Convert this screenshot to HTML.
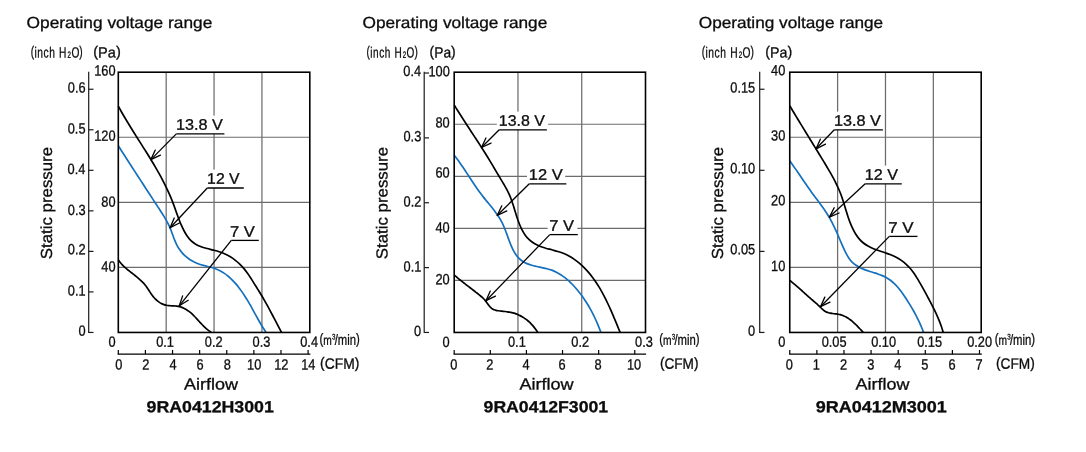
<!DOCTYPE html>
<html><head><meta charset="utf-8"><title>Operating voltage range</title>
<style>html,body{margin:0;padding:0;background:#fff}svg{display:block}text{text-rendering:geometricPrecision;font-family:"Liberation Sans",sans-serif;fill:#0c0c0c;stroke:#0c0c0c;stroke-width:.3px;vector-effect:non-scaling-stroke}</style>
</head><body>
<svg width="1086" height="452" viewBox="0 0 1086 452">
<rect width="1086" height="452" fill="#fff"/>
<text transform="translate(26.62 28.00) scale(1.0814 1) rotate(0.04)" font-size="16">Operating voltage range</text>
<text transform="translate(30.69 57.45) scale(0.6899 1) rotate(0.04)" stroke-width="0.75"><tspan dy="-1.00" font-size="14.8">(</tspan><tspan dx="0.50 0.80 0.80 0.80" dy="1.00" font-size="14.8">inch</tspan><tspan dx="2.00" font-size="14.8"> H</tspan><tspan dx="1.60" dy="0.20" font-size="9">2</tspan><tspan dx="0.60" dy="-0.20" font-size="14.8">O</tspan><tspan dy="-1.00" font-size="14.8">)</tspan></text>
<text transform="translate(93.23 57.45) scale(0.9838 1) rotate(0.04)" stroke-width="0.6"><tspan dy="-1.00" font-size="14.8">(</tspan><tspan dy="1.00" font-size="14.8">Pa</tspan><tspan dy="-1.00" font-size="14.8">)</tspan></text>
<line x1="166.18" y1="72.20" x2="166.18" y2="332.45" stroke="#6c6c6c" stroke-width="1.25"/>
<line x1="214.05" y1="72.20" x2="214.05" y2="332.45" stroke="#6c6c6c" stroke-width="1.25"/>
<line x1="261.93" y1="72.20" x2="261.93" y2="332.45" stroke="#6c6c6c" stroke-width="1.25"/>
<line x1="118.30" y1="137.26" x2="309.80" y2="137.26" stroke="#6c6c6c" stroke-width="1.2"/>
<line x1="118.30" y1="202.32" x2="309.80" y2="202.32" stroke="#6c6c6c" stroke-width="1.2"/>
<line x1="118.30" y1="267.39" x2="309.80" y2="267.39" stroke="#6c6c6c" stroke-width="1.2"/>
<path d="M118.30 106.10 C118.79 106.99 120.25 109.68 121.25 111.46 C122.25 113.24 123.27 115.01 124.30 116.77 C125.33 118.54 126.38 120.29 127.44 122.05 C128.49 123.80 129.56 125.54 130.64 127.29 C131.71 129.03 132.80 130.77 133.89 132.51 C134.97 134.24 136.07 135.98 137.17 137.71 C138.26 139.44 139.36 141.17 140.46 142.91 C141.56 144.64 142.66 146.37 143.75 148.11 C144.85 149.84 145.94 151.58 147.02 153.32 C148.11 155.06 149.19 156.80 150.26 158.55 C151.33 160.30 152.39 162.05 153.44 163.81 C154.48 165.56 155.52 167.33 156.54 169.10 C157.56 170.87 158.57 172.65 159.56 174.44 C160.54 176.23 161.52 178.03 162.46 179.83 C163.41 181.64 164.34 183.46 165.25 185.29 C166.15 187.12 167.04 188.96 167.89 190.82 C168.74 192.67 169.57 194.54 170.37 196.42 C171.17 198.31 171.94 200.20 172.68 202.12 C173.42 204.03 174.11 205.96 174.81 207.89 C175.51 209.83 176.18 211.78 176.88 213.71 C177.58 215.64 178.27 217.58 179.01 219.49 C179.76 221.41 180.51 223.32 181.35 225.19 C182.18 227.06 183.04 228.92 184.01 230.73 C184.97 232.53 185.98 234.36 187.14 236.02 C188.29 237.68 189.52 239.32 190.94 240.70 C192.36 242.07 193.94 243.27 195.65 244.27 C197.35 245.28 199.26 246.03 201.18 246.74 C203.10 247.45 205.16 247.97 207.17 248.52 C209.19 249.07 211.25 249.52 213.26 250.06 C215.27 250.59 217.28 251.10 219.23 251.75 C221.18 252.40 223.10 253.11 224.95 253.96 C226.80 254.81 228.61 255.77 230.35 256.83 C232.09 257.89 233.77 259.07 235.38 260.32 C236.99 261.57 238.53 262.93 240.00 264.35 C241.46 265.77 242.85 267.29 244.16 268.86 C245.47 270.43 246.68 272.09 247.86 273.76 C249.05 275.44 250.15 277.18 251.26 278.91 C252.37 280.63 253.45 282.39 254.54 284.13 C255.63 285.86 256.72 287.60 257.80 289.34 C258.87 291.08 259.95 292.81 261.00 294.56 C262.06 296.31 263.10 298.06 264.13 299.83 C265.15 301.60 266.15 303.38 267.14 305.17 C268.13 306.96 269.10 308.76 270.06 310.57 C271.02 312.37 271.97 314.18 272.92 316.00 C273.87 317.81 274.82 319.63 275.76 321.44 C276.71 323.26 277.66 325.08 278.61 326.88 C279.57 328.69 281.02 331.40 281.50 332.30" fill="none" stroke="#000" stroke-width="1.7" stroke-linejoin="round"/>
<path d="M118.30 145.80 C118.77 146.53 120.17 148.72 121.11 150.18 C122.05 151.64 122.99 153.10 123.93 154.56 C124.87 156.03 125.82 157.49 126.76 158.95 C127.70 160.41 128.64 161.88 129.59 163.34 C130.53 164.80 131.48 166.27 132.42 167.73 C133.37 169.20 134.31 170.66 135.26 172.12 C136.21 173.59 137.16 175.05 138.10 176.51 C139.05 177.98 140.00 179.44 140.95 180.90 C141.90 182.36 142.85 183.83 143.79 185.29 C144.74 186.75 145.69 188.21 146.64 189.67 C147.59 191.13 148.54 192.59 149.49 194.04 C150.44 195.50 151.39 196.96 152.34 198.41 C153.29 199.87 154.24 201.32 155.19 202.78 C156.14 204.23 157.09 205.68 158.04 207.13 C158.99 208.58 159.95 210.02 160.89 211.48 C161.82 212.93 162.76 214.38 163.67 215.86 C164.57 217.34 165.46 218.82 166.30 220.34 C167.14 221.86 167.95 223.39 168.70 224.97 C169.45 226.54 170.14 228.16 170.80 229.80 C171.46 231.44 172.04 233.13 172.67 234.80 C173.29 236.46 173.87 238.15 174.53 239.79 C175.20 241.42 175.86 243.06 176.65 244.61 C177.43 246.16 178.28 247.66 179.24 249.09 C180.20 250.51 181.26 251.86 182.39 253.13 C183.52 254.40 184.75 255.60 186.04 256.71 C187.34 257.81 188.71 258.84 190.15 259.77 C191.58 260.70 193.09 261.55 194.64 262.29 C196.20 263.03 197.83 263.66 199.48 264.23 C201.13 264.79 202.85 265.21 204.55 265.67 C206.25 266.13 207.99 266.50 209.69 266.98 C211.38 267.46 213.07 267.95 214.70 268.54 C216.34 269.14 217.95 269.79 219.50 270.56 C221.05 271.32 222.55 272.18 224.00 273.13 C225.45 274.08 226.84 275.15 228.19 276.26 C229.53 277.37 230.82 278.58 232.06 279.81 C233.30 281.04 234.48 282.32 235.63 283.63 C236.78 284.94 237.87 286.29 238.94 287.66 C240.00 289.04 241.02 290.44 242.02 291.87 C243.01 293.29 243.97 294.75 244.91 296.21 C245.85 297.68 246.76 299.17 247.65 300.67 C248.55 302.17 249.42 303.68 250.28 305.20 C251.15 306.72 252.00 308.26 252.85 309.79 C253.70 311.32 254.53 312.85 255.38 314.38 C256.22 315.91 257.07 317.45 257.92 318.97 C258.78 320.49 259.63 322.00 260.51 323.50 C261.39 325.00 262.28 326.49 263.19 327.96 C264.11 329.42 265.53 331.58 266.00 332.30" fill="none" stroke="#1470bd" stroke-width="1.7" stroke-linejoin="round"/>
<path d="M118.30 259.90 C118.56 260.25 119.32 261.32 119.86 262.00 C120.40 262.67 120.97 263.33 121.55 263.96 C122.13 264.60 122.73 265.21 123.35 265.82 C123.96 266.42 124.59 267.01 125.23 267.58 C125.88 268.16 126.53 268.72 127.19 269.28 C127.85 269.83 128.52 270.38 129.20 270.92 C129.87 271.46 130.56 271.99 131.24 272.53 C131.92 273.06 132.60 273.59 133.29 274.12 C133.97 274.66 134.65 275.19 135.33 275.73 C136.00 276.27 136.68 276.81 137.34 277.36 C138.01 277.91 138.67 278.46 139.31 279.03 C139.95 279.60 140.59 280.18 141.21 280.77 C141.83 281.37 142.44 281.97 143.03 282.60 C143.61 283.23 144.19 283.87 144.74 284.53 C145.29 285.19 145.81 285.88 146.32 286.58 C146.84 287.28 147.32 288.01 147.81 288.73 C148.30 289.46 148.77 290.20 149.25 290.94 C149.72 291.67 150.19 292.41 150.68 293.14 C151.17 293.86 151.65 294.58 152.17 295.28 C152.68 295.98 153.20 296.67 153.75 297.32 C154.31 297.98 154.89 298.61 155.49 299.21 C156.10 299.80 156.73 300.37 157.39 300.90 C158.05 301.43 158.73 301.93 159.44 302.38 C160.14 302.83 160.88 303.25 161.63 303.61 C162.38 303.98 163.16 304.31 163.95 304.58 C164.75 304.85 165.56 305.08 166.40 305.25 C167.23 305.42 168.09 305.53 168.95 305.63 C169.81 305.72 170.69 305.76 171.57 305.82 C172.45 305.88 173.34 305.90 174.22 305.96 C175.09 306.03 175.98 306.08 176.84 306.20 C177.71 306.31 178.56 306.45 179.40 306.65 C180.24 306.85 181.06 307.11 181.87 307.40 C182.67 307.69 183.46 308.04 184.23 308.42 C184.99 308.80 185.74 309.22 186.47 309.67 C187.20 310.11 187.91 310.60 188.60 311.11 C189.29 311.61 189.96 312.15 190.61 312.71 C191.27 313.26 191.91 313.84 192.54 314.44 C193.16 315.03 193.78 315.64 194.39 316.27 C195.00 316.89 195.59 317.53 196.19 318.17 C196.78 318.81 197.37 319.46 197.96 320.11 C198.55 320.75 199.13 321.41 199.72 322.06 C200.31 322.70 200.90 323.35 201.50 323.99 C202.10 324.62 202.70 325.25 203.31 325.87 C203.92 326.48 204.54 327.09 205.17 327.67 C205.81 328.25 206.45 328.82 207.11 329.36 C207.77 329.90 208.45 330.43 209.15 330.92 C209.85 331.40 210.94 332.07 211.30 332.30" fill="none" stroke="#000" stroke-width="1.7" stroke-linejoin="round"/>
<rect x="173.5" y="115.6" width="51.5" height="18.3" fill="#fff"/>
<text transform="translate(175.98 129.80) scale(1.0606 1) rotate(0.04)" font-size="15.3">13.8 V</text>
<line x1="176.30" y1="133.90" x2="224.40" y2="133.90" stroke="#000" stroke-width="1.3"/>
<line x1="176.30" y1="133.90" x2="150.90" y2="159.60" stroke="#000" stroke-width="1.3"/>
<line x1="150.90" y1="159.60" x2="155.28" y2="150.06" stroke="#000" stroke-width="1.3" stroke-linecap="round"/>
<line x1="150.90" y1="159.60" x2="160.39" y2="155.11" stroke="#000" stroke-width="1.3" stroke-linecap="round"/>
<rect x="204.0" y="169.6" width="40.5" height="18.4" fill="#fff"/>
<text transform="translate(207.12 183.80) scale(1.0325 1) rotate(0.04)" font-size="15.3">12 V</text>
<line x1="207.30" y1="188.00" x2="243.80" y2="188.00" stroke="#000" stroke-width="1.3"/>
<line x1="207.30" y1="188.00" x2="170.10" y2="227.70" stroke="#000" stroke-width="1.3"/>
<line x1="170.10" y1="227.70" x2="174.23" y2="218.04" stroke="#000" stroke-width="1.3" stroke-linecap="round"/>
<line x1="170.10" y1="227.70" x2="179.47" y2="222.96" stroke="#000" stroke-width="1.3" stroke-linecap="round"/>
<rect x="228.5" y="223.0" width="31.5" height="17.4" fill="#fff"/>
<text transform="translate(230.07 236.80) scale(1.0810 1) rotate(0.04)" font-size="15.3">7 V</text>
<line x1="231.30" y1="240.40" x2="258.80" y2="240.40" stroke="#000" stroke-width="1.3"/>
<line x1="231.30" y1="240.40" x2="179.30" y2="305.80" stroke="#000" stroke-width="1.3"/>
<line x1="179.30" y1="305.80" x2="182.63" y2="295.84" stroke="#000" stroke-width="1.3" stroke-linecap="round"/>
<line x1="179.30" y1="305.80" x2="188.25" y2="300.31" stroke="#000" stroke-width="1.3" stroke-linecap="round"/>
<rect x="118.30" y="72.20" width="191.50" height="260.25" fill="none" stroke="#000" stroke-width="1.6"/>
<line x1="88.70" y1="71.70" x2="88.70" y2="333.05" stroke="#1a1a1a" stroke-width="1.2"/>
<line x1="88.70" y1="332.45" x2="93.50" y2="332.45" stroke="#1a1a1a" stroke-width="1.2"/>
<text transform="translate(78.41 335.70) scale(0.8650 1) rotate(0.04)" font-size="14.8" stroke-width="0.75">0</text>
<line x1="88.70" y1="291.92" x2="93.50" y2="291.92" stroke="#1a1a1a" stroke-width="1.2"/>
<text transform="translate(67.85 295.57) scale(0.8650 1) rotate(0.04)" font-size="14.8" stroke-width="0.75">0.1</text>
<line x1="88.70" y1="251.38" x2="93.50" y2="251.38" stroke="#1a1a1a" stroke-width="1.2"/>
<text transform="translate(67.85 254.33) scale(0.8650 1) rotate(0.04)" font-size="14.8" stroke-width="0.75">0.2</text>
<line x1="88.70" y1="210.85" x2="93.50" y2="210.85" stroke="#1a1a1a" stroke-width="1.2"/>
<text transform="translate(67.78 214.90) scale(0.8650 1) rotate(0.04)" font-size="14.8" stroke-width="0.75">0.3</text>
<line x1="88.70" y1="170.31" x2="93.50" y2="170.31" stroke="#1a1a1a" stroke-width="1.2"/>
<text transform="translate(67.59 174.06) scale(0.8650 1) rotate(0.04)" font-size="14.8" stroke-width="0.75">0.4</text>
<line x1="88.70" y1="129.78" x2="93.50" y2="129.78" stroke="#1a1a1a" stroke-width="1.2"/>
<text transform="translate(67.72 133.58) scale(0.8650 1) rotate(0.04)" font-size="14.8" stroke-width="0.75">0.5</text>
<line x1="88.70" y1="89.25" x2="93.50" y2="89.25" stroke="#1a1a1a" stroke-width="1.2"/>
<text transform="translate(67.78 92.60) scale(0.8650 1) rotate(0.04)" font-size="14.8" stroke-width="0.75">0.6</text>
<text transform="translate(94.20 75.45) scale(0.8650 1) rotate(0.04)" font-size="14.8" stroke-width="0.75">160</text>
<text transform="translate(94.20 140.65) scale(0.8650 1) rotate(0.04)" font-size="14.8" stroke-width="0.75">120</text>
<text transform="translate(101.30 206.80) scale(0.8650 1) rotate(0.04)" font-size="14.8" stroke-width="0.75">80</text>
<text transform="translate(101.30 271.45) scale(0.8650 1) rotate(0.04)" font-size="14.8" stroke-width="0.75">40</text>
<text transform="translate(108.41 346.80) scale(0.8650 1) rotate(0.04)" font-size="14.8" stroke-width="0.75">0</text>
<text transform="translate(156.17 346.65) scale(0.8650 1) rotate(0.04)" font-size="14.8" stroke-width="0.75">0.1</text>
<text transform="translate(204.77 346.65) scale(0.8650 1) rotate(0.04)" font-size="14.8" stroke-width="0.75">0.2</text>
<text transform="translate(252.53 346.65) scale(0.8650 1) rotate(0.04)" font-size="14.8" stroke-width="0.75">0.3</text>
<text transform="translate(300.24 346.65) scale(0.8650 1) rotate(0.04)" font-size="14.8" stroke-width="0.75">0.4</text>
<text transform="translate(319.52 344.65) scale(0.7638 1) rotate(0.04)" stroke-width="0.75"><tspan dy="-1.00" font-size="14.8">(</tspan><tspan dy="1.00" font-size="13.4">m</tspan><tspan dx="0.20" dy="-5.10" font-size="8.2">3</tspan><tspan dx="-1.00" dy="5.10" font-size="14.8">/min</tspan><tspan dy="-1.00" font-size="14.8">)</tspan></text>
<line x1="117.70" y1="354.15" x2="310.40" y2="354.15" stroke="#000" stroke-width="1.2"/>
<line x1="118.30" y1="354.15" x2="118.30" y2="349.95" stroke="#000" stroke-width="1.2"/>
<text transform="translate(115.25 369.45) scale(0.8650 1) rotate(0.04)" font-size="14.8" stroke-width="0.75">0</text>
<line x1="145.41" y1="354.15" x2="145.41" y2="349.95" stroke="#000" stroke-width="1.2"/>
<text transform="translate(142.36 369.45) scale(0.8650 1) rotate(0.04)" font-size="14.8" stroke-width="0.75">2</text>
<line x1="172.53" y1="354.15" x2="172.53" y2="349.95" stroke="#000" stroke-width="1.2"/>
<text transform="translate(169.51 369.45) scale(0.8650 1) rotate(0.04)" font-size="14.8" stroke-width="0.75">4</text>
<line x1="199.64" y1="354.15" x2="199.64" y2="349.95" stroke="#000" stroke-width="1.2"/>
<text transform="translate(196.56 369.45) scale(0.8650 1) rotate(0.04)" font-size="14.8" stroke-width="0.75">6</text>
<line x1="226.75" y1="354.15" x2="226.75" y2="349.95" stroke="#000" stroke-width="1.2"/>
<text transform="translate(223.67 369.45) scale(0.8650 1) rotate(0.04)" font-size="14.8" stroke-width="0.75">8</text>
<line x1="253.87" y1="354.15" x2="253.87" y2="349.95" stroke="#000" stroke-width="1.2"/>
<text transform="translate(247.04 369.45) scale(0.8650 1) rotate(0.04)" font-size="14.8" stroke-width="0.75">10</text>
<line x1="280.98" y1="354.15" x2="280.98" y2="349.95" stroke="#000" stroke-width="1.2"/>
<text transform="translate(274.21 369.45) scale(0.8650 1) rotate(0.04)" font-size="14.8" stroke-width="0.75">12</text>
<line x1="308.09" y1="354.15" x2="308.09" y2="349.95" stroke="#000" stroke-width="1.2"/>
<text transform="translate(301.20 369.45) scale(0.8650 1) rotate(0.04)" font-size="14.8" stroke-width="0.75">14</text>
<text transform="translate(320.07 368.85) scale(0.9225 1) rotate(0.04)" stroke-width="0.6"><tspan dy="-1.00" font-size="15">(</tspan><tspan dy="1.00" font-size="15">CFM</tspan><tspan dy="-1.00" font-size="15">)</tspan></text>
<text transform="translate(184.11 389.60) scale(1.1229 1) rotate(0.04)" font-size="16">Airflow</text>
<text transform="translate(146.58 412.20) scale(1.1085 1) rotate(0.04)" font-size="16" font-weight="bold" stroke-width="0.1">9RA0412H3001</text>
<text transform="translate(52.10 259.16) rotate(-90.04) scale(1.0515 1)" font-size="16">Static pressure</text>
<text transform="translate(362.53 28.00) scale(1.0761 1) rotate(0.04)" font-size="16">Operating voltage range</text>
<text transform="translate(366.60 57.45) scale(0.6776 1) rotate(0.04)" stroke-width="0.75"><tspan dy="-1.00" font-size="14.8">(</tspan><tspan dx="0.50 0.80 0.80 0.80" dy="1.00" font-size="14.8">inch</tspan><tspan dx="2.00" font-size="14.8"> H</tspan><tspan dx="1.60" dy="0.20" font-size="9">2</tspan><tspan dx="0.60" dy="-0.20" font-size="14.8">O</tspan><tspan dy="-1.00" font-size="14.8">)</tspan></text>
<text transform="translate(429.57 57.45) scale(0.9341 1) rotate(0.04)" stroke-width="0.6"><tspan dy="-1.00" font-size="14.8">(</tspan><tspan dy="1.00" font-size="14.8">Pa</tspan><tspan dy="-1.00" font-size="14.8">)</tspan></text>
<line x1="517.97" y1="72.20" x2="517.97" y2="332.45" stroke="#6c6c6c" stroke-width="1.25"/>
<line x1="581.73" y1="72.20" x2="581.73" y2="332.45" stroke="#6c6c6c" stroke-width="1.25"/>
<line x1="454.20" y1="124.25" x2="645.50" y2="124.25" stroke="#6c6c6c" stroke-width="1.2"/>
<line x1="454.20" y1="176.30" x2="645.50" y2="176.30" stroke="#6c6c6c" stroke-width="1.2"/>
<line x1="454.20" y1="228.35" x2="645.50" y2="228.35" stroke="#6c6c6c" stroke-width="1.2"/>
<line x1="454.20" y1="280.40" x2="645.50" y2="280.40" stroke="#6c6c6c" stroke-width="1.2"/>
<path d="M454.20 105.00 C454.75 105.88 456.37 108.53 457.47 110.29 C458.57 112.04 459.68 113.79 460.80 115.54 C461.91 117.28 463.03 119.02 464.16 120.76 C465.28 122.50 466.41 124.24 467.54 125.97 C468.67 127.70 469.81 129.44 470.94 131.17 C472.08 132.90 473.21 134.63 474.34 136.36 C475.47 138.10 476.61 139.83 477.73 141.57 C478.86 143.30 479.98 145.04 481.10 146.78 C482.21 148.53 483.33 150.27 484.43 152.03 C485.53 153.78 486.63 155.54 487.72 157.30 C488.80 159.07 489.88 160.84 490.95 162.62 C492.02 164.39 493.07 166.18 494.13 167.96 C495.19 169.75 496.24 171.54 497.30 173.32 C498.36 175.10 499.42 176.88 500.48 178.66 C501.55 180.44 502.64 182.21 503.68 183.99 C504.72 185.78 505.77 187.56 506.73 189.39 C507.69 191.21 508.61 193.05 509.44 194.94 C510.28 196.82 511.01 198.76 511.71 200.71 C512.42 202.65 513.04 204.64 513.67 206.63 C514.31 208.61 514.89 210.63 515.51 212.62 C516.14 214.62 516.74 216.62 517.42 218.60 C518.10 220.57 518.78 222.55 519.58 224.47 C520.37 226.40 521.21 228.33 522.18 230.16 C523.15 231.99 524.20 233.80 525.41 235.44 C526.63 237.08 527.98 238.62 529.46 239.98 C530.94 241.34 532.58 242.55 534.30 243.59 C536.01 244.63 537.87 245.48 539.76 246.24 C541.65 247.01 543.65 247.59 545.65 248.19 C547.65 248.78 549.73 249.25 551.77 249.80 C553.81 250.35 555.88 250.84 557.89 251.46 C559.90 252.09 561.90 252.75 563.82 253.55 C565.74 254.35 567.61 255.27 569.42 256.28 C571.22 257.29 572.97 258.40 574.67 259.59 C576.36 260.78 577.99 262.06 579.57 263.39 C581.14 264.72 582.66 266.14 584.12 267.59 C585.58 269.04 586.98 270.56 588.32 272.11 C589.67 273.66 590.96 275.26 592.21 276.90 C593.46 278.53 594.65 280.22 595.81 281.93 C596.96 283.64 598.07 285.39 599.15 287.16 C600.22 288.93 601.25 290.74 602.25 292.56 C603.26 294.38 604.22 296.24 605.16 298.10 C606.10 299.96 607.01 301.85 607.90 303.74 C608.79 305.63 609.65 307.54 610.50 309.45 C611.35 311.36 612.17 313.28 612.99 315.20 C613.80 317.11 614.60 319.03 615.40 320.94 C616.19 322.85 616.97 324.76 617.76 326.65 C618.54 328.55 619.71 331.36 620.10 332.30" fill="none" stroke="#000" stroke-width="1.7" stroke-linejoin="round"/>
<path d="M454.20 155.20 C454.72 155.88 456.29 157.89 457.31 159.26 C458.32 160.63 459.30 162.01 460.28 163.40 C461.25 164.79 462.20 166.19 463.15 167.59 C464.09 169.00 465.02 170.41 465.95 171.83 C466.88 173.24 467.79 174.66 468.72 176.08 C469.64 177.49 470.56 178.91 471.49 180.33 C472.42 181.74 473.35 183.15 474.29 184.55 C475.24 185.95 476.19 187.35 477.17 188.74 C478.15 190.12 479.13 191.50 480.15 192.86 C481.17 194.22 482.21 195.56 483.27 196.90 C484.32 198.23 485.41 199.55 486.49 200.87 C487.56 202.20 488.66 203.51 489.73 204.83 C490.81 206.16 491.89 207.48 492.93 208.82 C493.98 210.16 495.01 211.50 496.00 212.88 C496.99 214.25 497.95 215.64 498.86 217.06 C499.76 218.48 500.63 219.93 501.43 221.41 C502.23 222.90 502.96 224.42 503.64 225.97 C504.33 227.52 504.95 229.11 505.56 230.70 C506.17 232.30 506.73 233.92 507.31 235.53 C507.90 237.15 508.45 238.78 509.06 240.38 C509.66 241.98 510.26 243.59 510.93 245.15 C511.60 246.72 512.29 248.28 513.07 249.78 C513.86 251.28 514.69 252.78 515.63 254.16 C516.58 255.55 517.60 256.90 518.75 258.08 C519.90 259.27 521.17 260.33 522.54 261.26 C523.91 262.18 525.42 262.94 526.96 263.62 C528.49 264.29 530.12 264.82 531.76 265.30 C533.39 265.79 535.08 266.15 536.76 266.53 C538.45 266.91 540.16 267.21 541.85 267.57 C543.54 267.93 545.25 268.26 546.90 268.70 C548.56 269.13 550.20 269.59 551.78 270.17 C553.37 270.76 554.91 271.44 556.41 272.19 C557.90 272.95 559.36 273.81 560.77 274.72 C562.18 275.63 563.55 276.63 564.88 277.67 C566.22 278.71 567.51 279.83 568.77 280.97 C570.03 282.11 571.25 283.31 572.43 284.53 C573.62 285.75 574.77 287.01 575.89 288.29 C577.01 289.57 578.10 290.87 579.15 292.20 C580.21 293.53 581.23 294.89 582.23 296.26 C583.22 297.63 584.19 299.03 585.12 300.45 C586.06 301.86 586.96 303.30 587.84 304.75 C588.72 306.21 589.57 307.68 590.39 309.16 C591.21 310.65 592.01 312.15 592.78 313.66 C593.55 315.18 594.30 316.70 595.02 318.24 C595.74 319.78 596.44 321.33 597.12 322.88 C597.79 324.44 598.44 326.00 599.07 327.57 C599.70 329.14 600.60 331.51 600.90 332.30" fill="none" stroke="#1470bd" stroke-width="1.7" stroke-linejoin="round"/>
<path d="M454.20 275.00 C454.48 275.24 455.31 275.97 455.88 276.45 C456.44 276.94 457.00 277.41 457.57 277.89 C458.14 278.36 458.72 278.83 459.29 279.30 C459.87 279.77 460.44 280.23 461.02 280.70 C461.60 281.16 462.19 281.62 462.77 282.08 C463.35 282.54 463.94 282.99 464.53 283.45 C465.12 283.91 465.70 284.36 466.29 284.81 C466.88 285.27 467.47 285.72 468.06 286.17 C468.65 286.62 469.25 287.08 469.84 287.53 C470.43 287.98 471.02 288.43 471.61 288.88 C472.20 289.34 472.79 289.79 473.37 290.24 C473.96 290.70 474.55 291.15 475.13 291.61 C475.72 292.06 476.30 292.52 476.89 292.98 C477.47 293.44 478.05 293.90 478.62 294.37 C479.20 294.83 479.78 295.30 480.34 295.77 C480.90 296.25 481.47 296.73 482.01 297.23 C482.56 297.72 483.09 298.23 483.61 298.76 C484.13 299.28 484.64 299.82 485.12 300.39 C485.60 300.95 486.06 301.55 486.51 302.15 C486.95 302.75 487.38 303.38 487.81 303.98 C488.25 304.59 488.67 305.21 489.13 305.78 C489.58 306.35 490.04 306.91 490.54 307.41 C491.04 307.91 491.55 308.38 492.13 308.77 C492.70 309.16 493.33 309.48 493.98 309.75 C494.64 310.02 495.35 310.21 496.07 310.38 C496.79 310.55 497.55 310.66 498.30 310.77 C499.05 310.88 499.83 310.96 500.59 311.04 C501.35 311.13 502.11 311.20 502.87 311.28 C503.63 311.36 504.38 311.44 505.13 311.52 C505.88 311.61 506.63 311.70 507.37 311.80 C508.11 311.91 508.85 312.02 509.58 312.15 C510.31 312.28 511.04 312.43 511.76 312.60 C512.48 312.77 513.20 312.96 513.91 313.17 C514.62 313.38 515.32 313.61 516.01 313.86 C516.71 314.11 517.39 314.39 518.07 314.68 C518.75 314.97 519.42 315.29 520.08 315.62 C520.74 315.95 521.39 316.31 522.03 316.68 C522.67 317.05 523.30 317.45 523.92 317.86 C524.54 318.27 525.16 318.70 525.75 319.14 C526.35 319.58 526.94 320.05 527.52 320.52 C528.09 321.00 528.66 321.49 529.21 321.99 C529.76 322.50 530.30 323.02 530.83 323.55 C531.36 324.08 531.87 324.63 532.37 325.18 C532.87 325.74 533.36 326.30 533.83 326.88 C534.31 327.46 534.77 328.04 535.21 328.64 C535.66 329.23 536.09 329.84 536.50 330.45 C536.92 331.06 537.50 331.99 537.70 332.30" fill="none" stroke="#000" stroke-width="1.7" stroke-linejoin="round"/>
<rect x="496.8" y="111.6" width="51.3" height="18.2" fill="#fff"/>
<text transform="translate(498.80 125.70) scale(1.0420 1) rotate(0.04)" font-size="15.3">13.8 V</text>
<line x1="499.20" y1="129.80" x2="546.90" y2="129.80" stroke="#000" stroke-width="1.3"/>
<line x1="499.20" y1="129.80" x2="481.50" y2="147.50" stroke="#000" stroke-width="1.3"/>
<line x1="481.50" y1="147.50" x2="485.94" y2="137.98" stroke="#000" stroke-width="1.3" stroke-linecap="round"/>
<line x1="481.50" y1="147.50" x2="491.02" y2="143.06" stroke="#000" stroke-width="1.3" stroke-linecap="round"/>
<rect x="527.0" y="165.6" width="38.2" height="18.2" fill="#fff"/>
<text transform="translate(528.77 179.70) scale(1.0755 1) rotate(0.04)" font-size="15.3">12 V</text>
<line x1="529.30" y1="183.80" x2="566.40" y2="183.80" stroke="#000" stroke-width="1.3"/>
<line x1="529.30" y1="183.80" x2="497.30" y2="215.30" stroke="#000" stroke-width="1.3"/>
<line x1="497.30" y1="215.30" x2="501.81" y2="205.82" stroke="#000" stroke-width="1.3" stroke-linecap="round"/>
<line x1="497.30" y1="215.30" x2="506.85" y2="210.94" stroke="#000" stroke-width="1.3" stroke-linecap="round"/>
<rect x="547.6" y="218.0" width="29.8" height="16.6" fill="#fff"/>
<text transform="translate(549.18 230.80) scale(1.0765 1) rotate(0.04)" font-size="15.3">7 V</text>
<line x1="549.80" y1="234.60" x2="577.80" y2="234.60" stroke="#000" stroke-width="1.3"/>
<line x1="549.80" y1="234.60" x2="486.00" y2="300.70" stroke="#000" stroke-width="1.3"/>
<line x1="486.00" y1="300.70" x2="490.27" y2="291.11" stroke="#000" stroke-width="1.3" stroke-linecap="round"/>
<line x1="486.00" y1="300.70" x2="495.44" y2="296.09" stroke="#000" stroke-width="1.3" stroke-linecap="round"/>
<rect x="454.20" y="72.20" width="191.30" height="260.25" fill="none" stroke="#000" stroke-width="1.6"/>
<line x1="424.20" y1="71.70" x2="424.20" y2="333.05" stroke="#1a1a1a" stroke-width="1.2"/>
<line x1="424.20" y1="332.45" x2="429.00" y2="332.45" stroke="#1a1a1a" stroke-width="1.2"/>
<text transform="translate(414.11 336.00) scale(0.8650 1) rotate(0.04)" font-size="14.8" stroke-width="0.75">0</text>
<line x1="424.20" y1="267.60" x2="429.00" y2="267.60" stroke="#1a1a1a" stroke-width="1.2"/>
<text transform="translate(403.55 271.45) scale(0.8650 1) rotate(0.04)" font-size="14.8" stroke-width="0.75">0.1</text>
<line x1="424.20" y1="202.74" x2="429.00" y2="202.74" stroke="#1a1a1a" stroke-width="1.2"/>
<text transform="translate(403.55 206.39) scale(0.8650 1) rotate(0.04)" font-size="14.8" stroke-width="0.75">0.2</text>
<line x1="424.20" y1="137.89" x2="429.00" y2="137.89" stroke="#1a1a1a" stroke-width="1.2"/>
<text transform="translate(403.48 141.24) scale(0.8650 1) rotate(0.04)" font-size="14.8" stroke-width="0.75">0.3</text>
<line x1="424.20" y1="73.03" x2="429.00" y2="73.03" stroke="#1a1a1a" stroke-width="1.2"/>
<text transform="translate(403.29 75.88) scale(0.8650 1) rotate(0.04)" font-size="14.8" stroke-width="0.75">0.4</text>
<text transform="translate(428.40 76.25) scale(0.8650 1) rotate(0.04)" font-size="14.8" stroke-width="0.75">100</text>
<text transform="translate(435.50 127.45) scale(0.8650 1) rotate(0.04)" font-size="14.8" stroke-width="0.75">80</text>
<text transform="translate(435.50 177.45) scale(0.8650 1) rotate(0.04)" font-size="14.8" stroke-width="0.75">60</text>
<text transform="translate(435.50 232.45) scale(0.8650 1) rotate(0.04)" font-size="14.8" stroke-width="0.75">40</text>
<text transform="translate(435.50 284.25) scale(0.8650 1) rotate(0.04)" font-size="14.8" stroke-width="0.75">20</text>
<text transform="translate(442.61 347.00) scale(0.8650 1) rotate(0.04)" font-size="14.8" stroke-width="0.75">0</text>
<text transform="translate(507.97 346.65) scale(0.8650 1) rotate(0.04)" font-size="14.8" stroke-width="0.75">0.1</text>
<text transform="translate(571.27 346.65) scale(0.8650 1) rotate(0.04)" font-size="14.8" stroke-width="0.75">0.2</text>
<text transform="translate(635.03 346.65) scale(0.8650 1) rotate(0.04)" font-size="14.8" stroke-width="0.75">0.3</text>
<text transform="translate(659.22 344.65) scale(0.7638 1) rotate(0.04)" stroke-width="0.75"><tspan dy="-1.00" font-size="14.8">(</tspan><tspan dy="1.00" font-size="13.4">m</tspan><tspan dx="0.20" dy="-5.10" font-size="8.2">3</tspan><tspan dx="-1.00" dy="5.10" font-size="14.8">/min</tspan><tspan dy="-1.00" font-size="14.8">)</tspan></text>
<line x1="453.60" y1="354.15" x2="646.10" y2="354.15" stroke="#000" stroke-width="1.2"/>
<line x1="454.20" y1="354.15" x2="454.20" y2="349.95" stroke="#000" stroke-width="1.2"/>
<text transform="translate(450.15 369.45) scale(0.8650 1) rotate(0.04)" font-size="14.8" stroke-width="0.75">0</text>
<line x1="490.31" y1="354.15" x2="490.31" y2="349.95" stroke="#000" stroke-width="1.2"/>
<text transform="translate(486.26 369.45) scale(0.8650 1) rotate(0.04)" font-size="14.8" stroke-width="0.75">2</text>
<line x1="526.43" y1="354.15" x2="526.43" y2="349.95" stroke="#000" stroke-width="1.2"/>
<text transform="translate(522.41 369.45) scale(0.8650 1) rotate(0.04)" font-size="14.8" stroke-width="0.75">4</text>
<line x1="562.54" y1="354.15" x2="562.54" y2="349.95" stroke="#000" stroke-width="1.2"/>
<text transform="translate(558.46 369.45) scale(0.8650 1) rotate(0.04)" font-size="14.8" stroke-width="0.75">6</text>
<line x1="598.65" y1="354.15" x2="598.65" y2="349.95" stroke="#000" stroke-width="1.2"/>
<text transform="translate(594.57 369.45) scale(0.8650 1) rotate(0.04)" font-size="14.8" stroke-width="0.75">8</text>
<line x1="634.77" y1="354.15" x2="634.77" y2="349.95" stroke="#000" stroke-width="1.2"/>
<text transform="translate(626.94 369.45) scale(0.8650 1) rotate(0.04)" font-size="14.8" stroke-width="0.75">10</text>
<text transform="translate(659.88 368.85) scale(0.9077 1) rotate(0.04)" stroke-width="0.6"><tspan dy="-1.00" font-size="15">(</tspan><tspan dy="1.00" font-size="15">CFM</tspan><tspan dy="-1.00" font-size="15">)</tspan></text>
<text transform="translate(519.51 389.60) scale(1.1271 1) rotate(0.04)" font-size="16">Airflow</text>
<text transform="translate(483.58 412.20) scale(1.1018 1) rotate(0.04)" font-size="16" font-weight="bold" stroke-width="0.1">9RA0412F3001</text>
<text transform="translate(387.60 259.16) rotate(-90.04) scale(1.0515 1)" font-size="16">Static pressure</text>
<text transform="translate(698.83 28.00) scale(1.0738 1) rotate(0.04)" font-size="16">Operating voltage range</text>
<text transform="translate(701.68 57.45) scale(0.6926 1) rotate(0.04)" stroke-width="0.75"><tspan dy="-1.00" font-size="14.8">(</tspan><tspan dx="0.50 0.80 0.80 0.80" dy="1.00" font-size="14.8">inch</tspan><tspan dx="2.00" font-size="14.8"> H</tspan><tspan dx="1.60" dy="0.20" font-size="9">2</tspan><tspan dx="0.60" dy="-0.20" font-size="14.8">O</tspan><tspan dy="-1.00" font-size="14.8">)</tspan></text>
<text transform="translate(765.35 57.45) scale(0.9609 1) rotate(0.04)" stroke-width="0.6"><tspan dy="-1.00" font-size="14.8">(</tspan><tspan dy="1.00" font-size="14.8">Pa</tspan><tspan dy="-1.00" font-size="14.8">)</tspan></text>
<line x1="837.61" y1="72.20" x2="837.61" y2="332.45" stroke="#6c6c6c" stroke-width="1.25"/>
<line x1="885.48" y1="72.20" x2="885.48" y2="332.45" stroke="#6c6c6c" stroke-width="1.25"/>
<line x1="933.34" y1="72.20" x2="933.34" y2="332.45" stroke="#6c6c6c" stroke-width="1.25"/>
<line x1="789.75" y1="137.26" x2="981.20" y2="137.26" stroke="#6c6c6c" stroke-width="1.2"/>
<line x1="789.75" y1="202.32" x2="981.20" y2="202.32" stroke="#6c6c6c" stroke-width="1.2"/>
<line x1="789.75" y1="267.39" x2="981.20" y2="267.39" stroke="#6c6c6c" stroke-width="1.2"/>
<path d="M789.75 105.80 C790.27 106.66 791.81 109.25 792.84 110.97 C793.88 112.69 794.91 114.41 795.95 116.13 C796.99 117.84 798.03 119.56 799.07 121.27 C800.11 122.98 801.16 124.69 802.20 126.40 C803.24 128.11 804.29 129.82 805.34 131.52 C806.38 133.23 807.43 134.94 808.48 136.64 C809.53 138.35 810.57 140.05 811.62 141.76 C812.67 143.47 813.72 145.17 814.76 146.88 C815.81 148.59 816.86 150.30 817.90 152.01 C818.95 153.72 819.99 155.43 821.03 157.15 C822.08 158.86 823.12 160.58 824.16 162.30 C825.20 164.02 826.24 165.74 827.26 167.47 C828.29 169.20 829.31 170.94 830.31 172.68 C831.30 174.43 832.29 176.18 833.24 177.95 C834.18 179.71 835.12 181.49 836.00 183.29 C836.89 185.08 837.75 186.89 838.55 188.72 C839.36 190.55 840.12 192.40 840.83 194.28 C841.54 196.15 842.19 198.05 842.82 199.95 C843.45 201.86 844.03 203.79 844.62 205.71 C845.20 207.63 845.76 209.57 846.36 211.50 C846.95 213.42 847.53 215.35 848.18 217.25 C848.82 219.16 849.48 221.06 850.22 222.92 C850.96 224.79 851.74 226.65 852.62 228.45 C853.49 230.25 854.44 232.05 855.49 233.74 C856.55 235.43 857.69 237.08 858.96 238.58 C860.23 240.08 861.60 241.50 863.10 242.75 C864.61 244.00 866.27 245.08 867.99 246.07 C869.72 247.05 871.59 247.87 873.47 248.66 C875.34 249.44 877.31 250.10 879.24 250.77 C881.17 251.45 883.13 252.03 885.04 252.70 C886.95 253.37 888.87 254.01 890.72 254.77 C892.57 255.54 894.40 256.37 896.16 257.30 C897.92 258.24 899.63 259.25 901.26 260.37 C902.89 261.49 904.46 262.70 905.94 264.02 C907.41 265.34 908.79 266.77 910.10 268.27 C911.40 269.78 912.61 271.40 913.77 273.05 C914.94 274.70 916.02 276.44 917.09 278.16 C918.16 279.89 919.17 281.66 920.19 283.42 C921.20 285.17 922.19 286.93 923.17 288.69 C924.15 290.44 925.11 292.20 926.07 293.96 C927.03 295.72 927.98 297.48 928.92 299.25 C929.85 301.01 930.79 302.78 931.70 304.56 C932.62 306.34 933.52 308.12 934.39 309.92 C935.27 311.71 936.12 313.52 936.94 315.35 C937.75 317.17 938.54 319.01 939.28 320.87 C940.03 322.73 940.73 324.61 941.39 326.51 C942.04 328.42 942.90 331.34 943.20 332.30" fill="none" stroke="#000" stroke-width="1.7" stroke-linejoin="round"/>
<path d="M789.75 160.80 C790.22 161.45 791.62 163.39 792.54 164.69 C793.47 165.99 794.38 167.30 795.29 168.61 C796.19 169.91 797.09 171.22 797.99 172.54 C798.89 173.85 799.78 175.16 800.68 176.47 C801.57 177.78 802.46 179.09 803.35 180.41 C804.25 181.72 805.14 183.03 806.04 184.33 C806.94 185.64 807.85 186.95 808.76 188.25 C809.67 189.55 810.59 190.85 811.52 192.14 C812.45 193.43 813.39 194.72 814.33 196.01 C815.28 197.29 816.24 198.57 817.19 199.85 C818.14 201.13 819.10 202.41 820.05 203.70 C820.99 204.99 821.94 206.28 822.86 207.58 C823.78 208.88 824.69 210.18 825.57 211.50 C826.45 212.82 827.32 214.15 828.15 215.50 C828.97 216.85 829.77 218.22 830.53 219.60 C831.30 220.99 832.03 222.39 832.74 223.80 C833.45 225.21 834.13 226.64 834.80 228.08 C835.47 229.52 836.11 230.97 836.76 232.42 C837.40 233.87 838.02 235.34 838.66 236.80 C839.29 238.27 839.91 239.74 840.54 241.21 C841.17 242.68 841.80 244.16 842.45 245.63 C843.11 247.10 843.77 248.57 844.46 250.03 C845.16 251.49 845.86 252.98 846.63 254.39 C847.41 255.80 848.20 257.22 849.11 258.50 C850.02 259.79 851.01 261.01 852.10 262.09 C853.19 263.18 854.39 264.14 855.66 265.03 C856.92 265.91 858.28 266.68 859.68 267.41 C861.08 268.13 862.55 268.76 864.04 269.36 C865.52 269.96 867.07 270.48 868.60 271.00 C870.13 271.52 871.70 271.99 873.24 272.48 C874.78 272.97 876.34 273.44 877.85 273.96 C879.36 274.49 880.87 275.02 882.32 275.65 C883.77 276.27 885.19 276.94 886.54 277.71 C887.89 278.49 889.19 279.36 890.44 280.29 C891.68 281.23 892.87 282.26 894.02 283.34 C895.18 284.42 896.28 285.58 897.34 286.77 C898.41 287.96 899.43 289.22 900.42 290.50 C901.42 291.77 902.37 293.10 903.30 294.43 C904.23 295.76 905.13 297.13 906.02 298.49 C906.90 299.85 907.76 301.23 908.60 302.60 C909.45 303.96 910.27 305.32 911.08 306.68 C911.89 308.04 912.68 309.40 913.46 310.77 C914.23 312.13 914.99 313.50 915.72 314.88 C916.45 316.27 917.17 317.66 917.86 319.07 C918.55 320.48 919.23 321.90 919.88 323.34 C920.53 324.79 921.15 326.25 921.76 327.74 C922.36 329.24 923.21 331.54 923.50 332.30" fill="none" stroke="#1470bd" stroke-width="1.7" stroke-linejoin="round"/>
<path d="M789.75 280.30 C790.00 280.51 790.77 281.13 791.27 281.55 C791.78 281.96 792.28 282.38 792.78 282.80 C793.28 283.23 793.78 283.65 794.28 284.07 C794.78 284.50 795.27 284.92 795.77 285.35 C796.26 285.77 796.75 286.20 797.25 286.63 C797.74 287.06 798.23 287.49 798.72 287.92 C799.20 288.35 799.69 288.78 800.18 289.21 C800.67 289.65 801.15 290.08 801.64 290.51 C802.13 290.94 802.61 291.38 803.10 291.81 C803.58 292.25 804.07 292.68 804.55 293.11 C805.04 293.55 805.52 293.98 806.01 294.42 C806.50 294.85 806.98 295.29 807.47 295.72 C807.95 296.15 808.44 296.59 808.93 297.02 C809.42 297.45 809.91 297.89 810.40 298.32 C810.89 298.75 811.38 299.18 811.87 299.61 C812.36 300.04 812.86 300.47 813.35 300.90 C813.85 301.33 814.34 301.76 814.84 302.19 C815.34 302.62 815.83 303.05 816.33 303.48 C816.82 303.91 817.31 304.35 817.80 304.79 C818.28 305.23 818.76 305.67 819.24 306.12 C819.71 306.57 820.18 307.03 820.64 307.49 C821.10 307.95 821.55 308.43 822.02 308.88 C822.48 309.32 822.95 309.77 823.44 310.17 C823.93 310.57 824.43 310.94 824.97 311.26 C825.50 311.58 826.07 311.85 826.65 312.10 C827.23 312.34 827.84 312.53 828.46 312.71 C829.07 312.89 829.71 313.02 830.35 313.15 C830.99 313.28 831.64 313.37 832.30 313.47 C832.95 313.56 833.61 313.64 834.27 313.72 C834.93 313.80 835.60 313.87 836.26 313.96 C836.92 314.05 837.58 314.14 838.23 314.26 C838.88 314.38 839.52 314.51 840.16 314.68 C840.79 314.84 841.42 315.03 842.04 315.25 C842.65 315.46 843.26 315.70 843.86 315.96 C844.46 316.22 845.05 316.51 845.63 316.81 C846.20 317.11 846.77 317.44 847.33 317.78 C847.89 318.12 848.44 318.47 848.98 318.84 C849.51 319.21 850.04 319.60 850.56 320.00 C851.08 320.39 851.59 320.80 852.09 321.22 C852.59 321.64 853.09 322.07 853.58 322.51 C854.06 322.95 854.54 323.40 855.02 323.85 C855.49 324.31 855.96 324.77 856.43 325.23 C856.89 325.70 857.35 326.17 857.81 326.64 C858.27 327.11 858.72 327.59 859.17 328.06 C859.62 328.54 860.07 329.01 860.52 329.49 C860.97 329.96 861.41 330.43 861.86 330.90 C862.31 331.37 862.98 332.07 863.20 332.30" fill="none" stroke="#000" stroke-width="1.7" stroke-linejoin="round"/>
<rect x="831.0" y="111.6" width="52.6" height="18.2" fill="#fff"/>
<text transform="translate(833.98 125.70) scale(1.0606 1) rotate(0.04)" font-size="15.3">13.8 V</text>
<line x1="834.30" y1="129.80" x2="882.90" y2="129.80" stroke="#000" stroke-width="1.3"/>
<line x1="834.30" y1="129.80" x2="816.10" y2="148.80" stroke="#000" stroke-width="1.3"/>
<line x1="816.10" y1="148.80" x2="820.33" y2="139.19" stroke="#000" stroke-width="1.3" stroke-linecap="round"/>
<line x1="816.10" y1="148.80" x2="825.52" y2="144.16" stroke="#000" stroke-width="1.3" stroke-linecap="round"/>
<rect x="863.0" y="165.6" width="39.0" height="18.2" fill="#fff"/>
<text transform="translate(864.79 179.70) scale(1.0524 1) rotate(0.04)" font-size="15.3">12 V</text>
<line x1="865.20" y1="183.80" x2="901.80" y2="183.80" stroke="#000" stroke-width="1.3"/>
<line x1="865.20" y1="183.80" x2="829.40" y2="217.10" stroke="#000" stroke-width="1.3"/>
<line x1="829.40" y1="217.10" x2="834.18" y2="207.75" stroke="#000" stroke-width="1.3" stroke-linecap="round"/>
<line x1="829.40" y1="217.10" x2="839.07" y2="213.01" stroke="#000" stroke-width="1.3" stroke-linecap="round"/>
<rect x="886.6" y="220.0" width="31.0" height="16.4" fill="#fff"/>
<text transform="translate(888.15 232.80) scale(1.1082 1) rotate(0.04)" font-size="15.3">7 V</text>
<line x1="889.30" y1="236.40" x2="917.50" y2="236.40" stroke="#000" stroke-width="1.3"/>
<line x1="889.30" y1="236.40" x2="820.50" y2="306.70" stroke="#000" stroke-width="1.3"/>
<line x1="820.50" y1="306.70" x2="824.83" y2="297.14" stroke="#000" stroke-width="1.3" stroke-linecap="round"/>
<line x1="820.50" y1="306.70" x2="829.97" y2="302.16" stroke="#000" stroke-width="1.3" stroke-linecap="round"/>
<rect x="789.75" y="72.20" width="191.45" height="260.25" fill="none" stroke="#000" stroke-width="1.6"/>
<line x1="759.70" y1="71.70" x2="759.70" y2="333.05" stroke="#1a1a1a" stroke-width="1.2"/>
<line x1="759.70" y1="332.45" x2="764.50" y2="332.45" stroke="#1a1a1a" stroke-width="1.2"/>
<text transform="translate(748.11 335.70) scale(0.8650 1) rotate(0.04)" font-size="14.8" stroke-width="0.75">0</text>
<line x1="759.70" y1="251.38" x2="764.50" y2="251.38" stroke="#1a1a1a" stroke-width="1.2"/>
<text transform="translate(730.31 254.33) scale(0.8650 1) rotate(0.04)" font-size="14.8" stroke-width="0.75">0.05</text>
<line x1="759.70" y1="170.31" x2="764.50" y2="170.31" stroke="#1a1a1a" stroke-width="1.2"/>
<text transform="translate(730.31 173.26) scale(0.8650 1) rotate(0.04)" font-size="14.8" stroke-width="0.75">0.10</text>
<line x1="759.70" y1="89.25" x2="764.50" y2="89.25" stroke="#1a1a1a" stroke-width="1.2"/>
<text transform="translate(730.31 92.40) scale(0.8650 1) rotate(0.04)" font-size="14.8" stroke-width="0.75">0.15</text>
<text transform="translate(771.05 75.35) scale(0.8650 1) rotate(0.04)" font-size="14.8" stroke-width="0.75">40</text>
<text transform="translate(771.05 140.45) scale(0.8650 1) rotate(0.04)" font-size="14.8" stroke-width="0.75">30</text>
<text transform="translate(771.05 205.35) scale(0.8650 1) rotate(0.04)" font-size="14.8" stroke-width="0.75">20</text>
<text transform="translate(771.05 271.05) scale(0.8650 1) rotate(0.04)" font-size="14.8" stroke-width="0.75">10</text>
<text transform="translate(778.16 346.70) scale(0.8650 1) rotate(0.04)" font-size="14.8" stroke-width="0.75">0</text>
<text transform="translate(821.65 346.65) scale(0.8650 1) rotate(0.04)" font-size="14.8" stroke-width="0.75">0.05</text>
<text transform="translate(871.15 346.65) scale(0.8650 1) rotate(0.04)" font-size="14.8" stroke-width="0.75">0.10</text>
<text transform="translate(917.15 346.65) scale(0.8650 1) rotate(0.04)" font-size="14.8" stroke-width="0.75">0.15</text>
<text transform="translate(967.15 346.65) scale(0.8650 1) rotate(0.04)" font-size="14.8" stroke-width="0.75">0.20</text>
<text transform="translate(994.82 344.65) scale(0.7638 1) rotate(0.04)" stroke-width="0.75"><tspan dy="-1.00" font-size="14.8">(</tspan><tspan dy="1.00" font-size="13.4">m</tspan><tspan dx="0.20" dy="-5.10" font-size="8.2">3</tspan><tspan dx="-1.00" dy="5.10" font-size="14.8">/min</tspan><tspan dy="-1.00" font-size="14.8">)</tspan></text>
<line x1="789.15" y1="354.15" x2="981.80" y2="354.15" stroke="#000" stroke-width="1.2"/>
<line x1="789.75" y1="354.15" x2="789.75" y2="349.95" stroke="#000" stroke-width="1.2"/>
<text transform="translate(785.80 369.45) scale(0.8650 1) rotate(0.04)" font-size="14.8" stroke-width="0.75">0</text>
<line x1="816.86" y1="354.15" x2="816.86" y2="349.95" stroke="#000" stroke-width="1.2"/>
<text transform="translate(812.74 369.45) scale(0.8650 1) rotate(0.04)" font-size="14.8" stroke-width="0.75">1</text>
<line x1="843.96" y1="354.15" x2="843.96" y2="349.95" stroke="#000" stroke-width="1.2"/>
<text transform="translate(840.01 369.45) scale(0.8650 1) rotate(0.04)" font-size="14.8" stroke-width="0.75">2</text>
<line x1="871.07" y1="354.15" x2="871.07" y2="349.95" stroke="#000" stroke-width="1.2"/>
<text transform="translate(867.15 369.45) scale(0.8650 1) rotate(0.04)" font-size="14.8" stroke-width="0.75">3</text>
<line x1="898.18" y1="354.15" x2="898.18" y2="349.95" stroke="#000" stroke-width="1.2"/>
<text transform="translate(894.25 369.45) scale(0.8650 1) rotate(0.04)" font-size="14.8" stroke-width="0.75">4</text>
<line x1="925.28" y1="354.15" x2="925.28" y2="349.95" stroke="#000" stroke-width="1.2"/>
<text transform="translate(921.33 369.45) scale(0.8650 1) rotate(0.04)" font-size="14.8" stroke-width="0.75">5</text>
<line x1="952.39" y1="354.15" x2="952.39" y2="349.95" stroke="#000" stroke-width="1.2"/>
<text transform="translate(948.40 369.45) scale(0.8650 1) rotate(0.04)" font-size="14.8" stroke-width="0.75">6</text>
<line x1="979.49" y1="354.15" x2="979.49" y2="349.95" stroke="#000" stroke-width="1.2"/>
<text transform="translate(975.54 369.45) scale(0.8650 1) rotate(0.04)" font-size="14.8" stroke-width="0.75">7</text>
<text transform="translate(995.98 368.85) scale(0.9127 1) rotate(0.04)" stroke-width="0.6"><tspan dy="-1.00" font-size="15">(</tspan><tspan dy="1.00" font-size="15">CFM</tspan><tspan dy="-1.00" font-size="15">)</tspan></text>
<text transform="translate(855.61 389.60) scale(1.1187 1) rotate(0.04)" font-size="16">Airflow</text>
<text transform="translate(815.67 412.20) scale(1.1253 1) rotate(0.04)" font-size="16" font-weight="bold" stroke-width="0.1">9RA0412M3001</text>
<text transform="translate(723.10 259.16) rotate(-90.04) scale(1.0515 1)" font-size="16">Static pressure</text>
</svg>
</body></html>
